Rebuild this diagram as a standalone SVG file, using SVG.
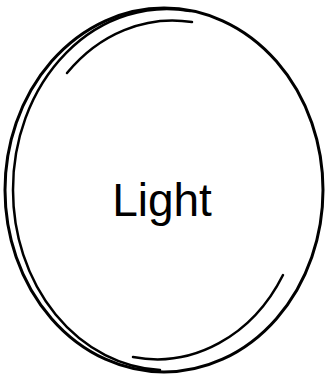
<svg xmlns="http://www.w3.org/2000/svg" width="329" height="374" viewBox="0 0 329 374">
<style>
.s{fill:none;stroke:#000;stroke-linecap:round}
.lbl{font-family:"Liberation Sans",Arial,sans-serif;font-size:46px;fill:#000}
</style>
<rect width="329" height="374" fill="#fff"/>
<g id="light">
<ellipse class="s" cx="164" cy="190" rx="159" ry="182" stroke-width="3"/>
<path class="s" stroke-width="2.5" d="M 190 11 A 154 180 0 0 0 13 190 A 154 180 0 0 0 160 370"/>
<path class="s" stroke-width="2.5" d="M 67 73 A 146 170 0 0 1 192 22"/>
<path class="s" stroke-width="2.5" d="M 283 275 A 146 170 0 0 1 133 357"/>
<text class="lbl" x="162" y="216" text-anchor="middle">Light</text>
</g>
</svg>
